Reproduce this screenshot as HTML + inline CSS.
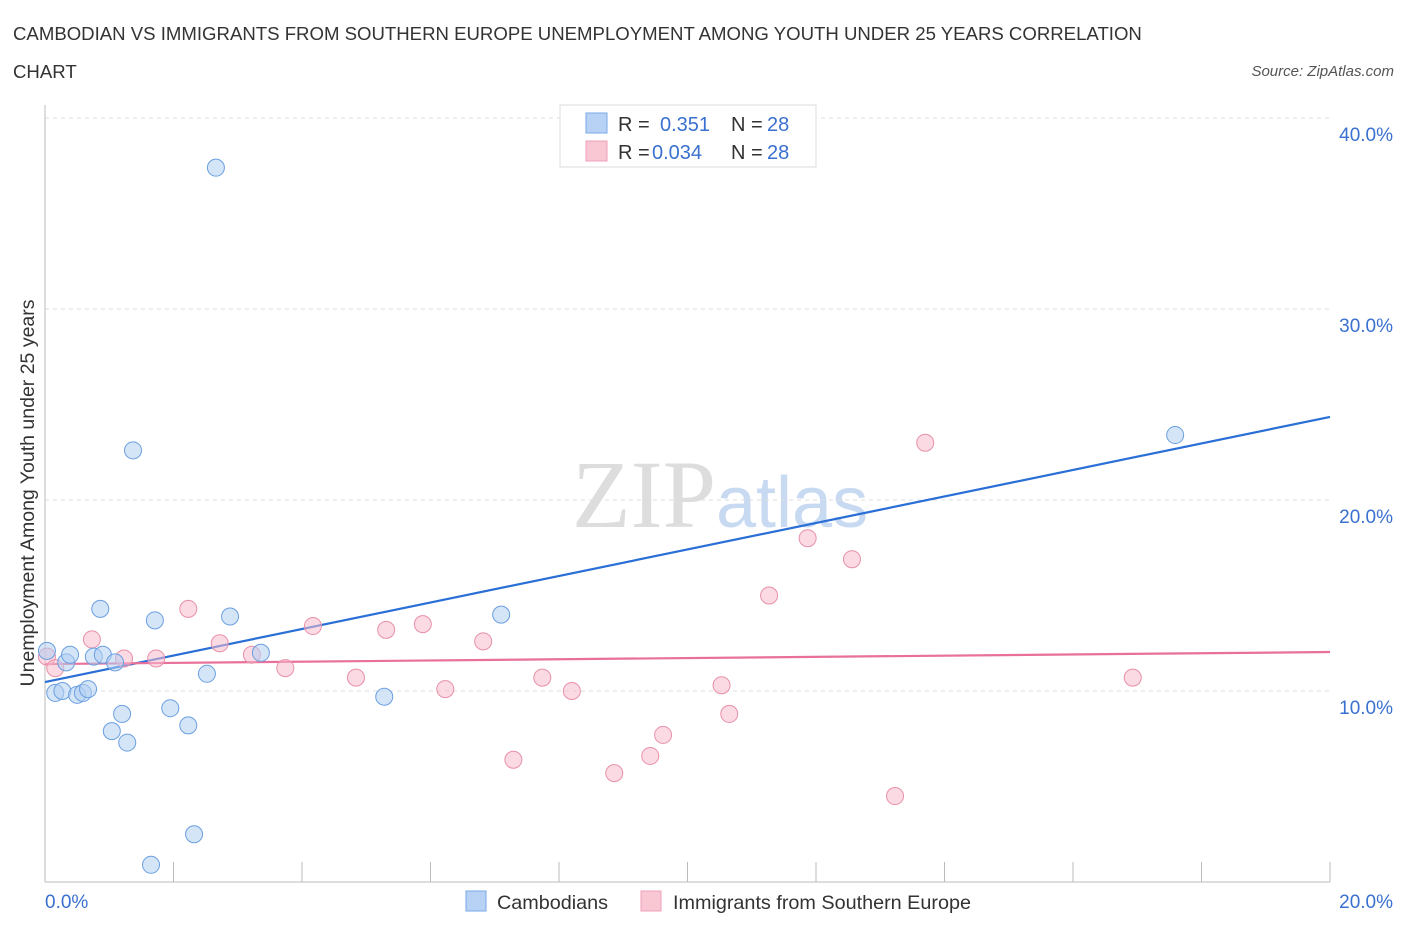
<!DOCTYPE html>
<html><head><meta charset="utf-8"><style>
body{margin:0;background:#fff;font-family:"Liberation Sans",sans-serif;}
</style></head><body>
<svg id="chart" width="1406" height="930" xmlns="http://www.w3.org/2000/svg" font-family="Liberation Sans, sans-serif">
<text x="13" y="40" font-size="18.6" fill="#333">CAMBODIAN VS IMMIGRANTS FROM SOUTHERN EUROPE UNEMPLOYMENT AMONG YOUTH UNDER 25 YEARS CORRELATION</text>
<text x="13" y="78" font-size="18.6" fill="#333">CHART</text>
<text x="1394" y="76" font-size="15" fill="#555" font-style="italic" text-anchor="end">Source: ZipAtlas.com</text>
<text x="716" y="527" font-size="96" fill="#ddd" text-anchor="end" font-family="Liberation Serif, serif">ZIP</text>
<text x="716" y="527" font-size="72" fill="#c8daf2">atlas</text>
<g id="grid"></g><g id="axes"></g><g id="trends"></g><g id="points"></g>
<text transform="translate(34,493) rotate(-90)" font-size="19.5" fill="#333" text-anchor="middle">Unemployment Among Youth under 25 years</text>
<g>
<rect x="560" y="105" width="256" height="62" fill="#fff" stroke="#ddd"/>
<rect x="586" y="113" width="21" height="20" fill="#b8d2f5" stroke="#7aa8e8"/>
<rect x="586" y="141" width="21" height="20" fill="#f9c6d4" stroke="#eea0b8"/>
<text x="618" y="131" font-size="20" fill="#333">R =</text><text x="660" y="131" font-size="20" fill="#3a70d0">0.351</text>
<text x="731" y="131" font-size="20" fill="#333">N =</text><text x="767" y="131" font-size="20" fill="#3a70d0">28</text>
<text x="618" y="159" font-size="20" fill="#333">R =</text><text x="652" y="159" font-size="20" fill="#3a70d0">0.034</text>
<text x="731" y="159" font-size="20" fill="#333">N =</text><text x="767" y="159" font-size="20" fill="#3a70d0">28</text>
</g>
<g>
<rect x="466" y="891" width="20" height="20" fill="#b8d2f5" stroke="#7aa8e8"/>
<text x="497" y="909" font-size="19.8" fill="#333">Cambodians</text>
<rect x="641" y="891" width="20" height="20" fill="#f9c6d4" stroke="#eea0b8"/>
<text x="673" y="909" font-size="19.8" fill="#333">Immigrants from Southern Europe</text>
</g>
</svg>
<script>
const yTicks=[10,20,30,40];
const yTickLabels=["10.0%","20.0%","30.0%","40.0%"];
const xTickLabels=["0.0%","20.0%"];
const blueX=[0.03,0.16,0.27,0.33,0.39,0.50,0.59,0.67,0.76,0.86,0.90,1.04,1.09,1.20,1.28,1.37,1.65,1.71,1.95,2.23,2.32,2.52,2.66,2.88,3.36,5.28,7.10,17.59];
const blueY=[12.1,9.9,10.0,11.5,11.9,9.8,9.9,10.1,11.8,14.3,11.9,7.9,11.5,8.8,7.3,22.6,0.9,13.7,9.1,8.2,2.5,10.9,37.4,13.9,12.0,9.7,14.0,23.4];
const pinkX=[0.03,0.16,0.73,1.23,1.73,2.23,2.72,3.22,3.74,4.17,4.84,5.31,5.88,6.23,6.82,7.29,7.74,8.20,8.86,9.42,9.62,10.53,10.65,11.27,11.87,12.56,13.23,13.70,16.93];
const pinkY=[11.8,11.2,12.7,11.7,11.7,14.3,12.5,11.9,11.2,13.4,10.7,13.2,13.5,10.1,12.6,6.4,10.7,10.0,5.7,6.6,7.7,10.3,8.8,15.0,18.0,16.9,4.5,23.0,10.7];
const blueTrend=[10.47,24.35];
const pinkTrend=[11.41,12.04];
const NS="http://www.w3.org/2000/svg";
const X=v=>45+v/20*1285, Y=v=>882-v*19.1;
function mk(t,a,p){const e=document.createElementNS(NS,t);for(const k in a)e.setAttribute(k,a[k]);document.getElementById(p).appendChild(e);return e;}
yTicks.forEach((t,i)=>{
 const g=mk('line',{x1:45,x2:1330,y1:Y(t),y2:Y(t),stroke:'#ddd','stroke-dasharray':'4,4'},'grid');
 
 
 const l=mk('text',{x:1393,y:Y(t)+23,'font-size':19,fill:'#3a70d0','text-anchor':'end'},'axes');l.textContent=yTickLabels[i];
 
 
});
const ax=mk('line',{x1:45,x2:45,y1:105,y2:882,stroke:'#bbb'},'axes');


const bx=mk('line',{x1:45,x2:1330,y1:882,y2:882,stroke:'#bbb'},'axes');


for(let i=0;i<=10;i++){const t=mk('line',{x1:X(i*2),x2:X(i*2),y1:862,y2:882,stroke:'#bbb'},'axes');
 
 }
[[0,'start',45],[1,'end',1393]].forEach(([i,a,x])=>{const t=mk('text',{x:x,y:908,'font-size':19,fill:'#3a70d0','text-anchor':a},'axes');t.textContent=xTickLabels[i];
 
 });
function pts(xs,ys,fill,stroke,name){xs.forEach((x,i)=>{const c=mk('circle',{cx:X(x),cy:Y(ys[i]),r:8.5,fill:fill,'fill-opacity':0.55,stroke:stroke,'stroke-width':1},'points');
 
 });}
pts(pinkX,pinkY,'#f7bccd','#e890a8','point-immigrants');
pts(blueX,blueY,'#b3cff3','#6a9fe0','point-cambodians');
const bt=mk('line',{x1:X(0),y1:Y(blueTrend[0]),x2:X(20),y2:Y(blueTrend[1]),stroke:'#2a6fd6','stroke-width':2.2},'trends');


const pt=mk('line',{x1:X(0),y1:Y(pinkTrend[0]),x2:X(20),y2:Y(pinkTrend[1]),stroke:'#e8709a','stroke-width':2.2},'trends');


</script>
</body></html>
